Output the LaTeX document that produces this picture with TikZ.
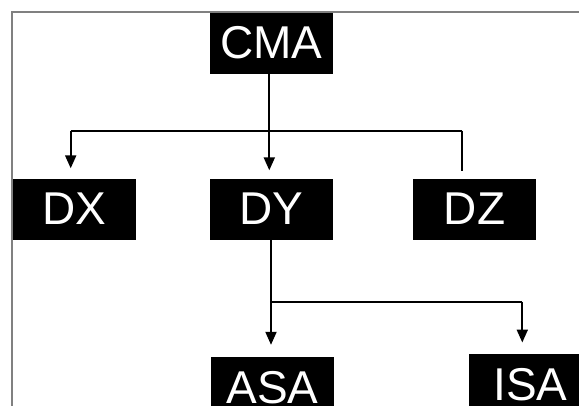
\documentclass[tikz,border=0pt]{standalone}
\usepackage{fontspec}
\setmainfont{Liberation Sans}
\usetikzlibrary{arrows.meta}
\begin{document}
\begin{tikzpicture}[x=1pt,y=-1pt,
  unitbox/.style={fill=black,text=white,minimum width=123pt,minimum height=61pt,
    inner sep=0pt,font=\fontsize{46}{46}\selectfont},
  link/.style={line width=2pt,black},
  arr/.style={link,-{Triangle[width=11pt,length=13pt]}}]
\useasboundingbox (0,0) rectangle (579,405);
\fill[white] (0,0) rectangle (579,405);
% frame
\draw[line width=1.7pt,black!50] (12,410) -- (12,12) -- (585,12);
% units
\node[unitbox] (cma) at (271.5,43) {CMA};
\node[unitbox] (dx) at (74,209) {DX};
\node[unitbox] (dy) at (271.5,209) {DY};
\node[unitbox] (dz) at (474.5,209) {DZ};
\node[unitbox] (asa) at (272.5,387.2) {ASA};
\node[unitbox] (isa) at (530.5,384.5) {ISA};
% branch points
\coordinate (b1) at (269.3,130.5);
\coordinate (b1l) at (70.7,130.5);
\coordinate (b1r) at (461.7,130.5);
\coordinate (b2) at (271,301.7);
\coordinate (b2r) at (522.3,301.7);
% CMA to directorates
\draw[link] (cma.south -| b1) -- (b1);
\draw[link] (b1l) -- (b1r);
\draw[arr,shorten >=10pt] (b1l) -- (b1l |- dx.north);
\draw[arr,shorten >=8pt] (b1) -- (b1 |- dy.north);
\draw[link,shorten >=7.6pt] (b1r) -- (b1r |- dz.north);
% DY to agencies
\draw[link] (dy.south -| b2) -- (b2) -- (b2r);
\draw[arr,shorten >=11.7pt] (b2) -- (b2 |- asa.north);
\draw[arr,shorten >=11.3pt] (b2r) -- (b2r |- isa.north);
\end{tikzpicture}
\end{document}
